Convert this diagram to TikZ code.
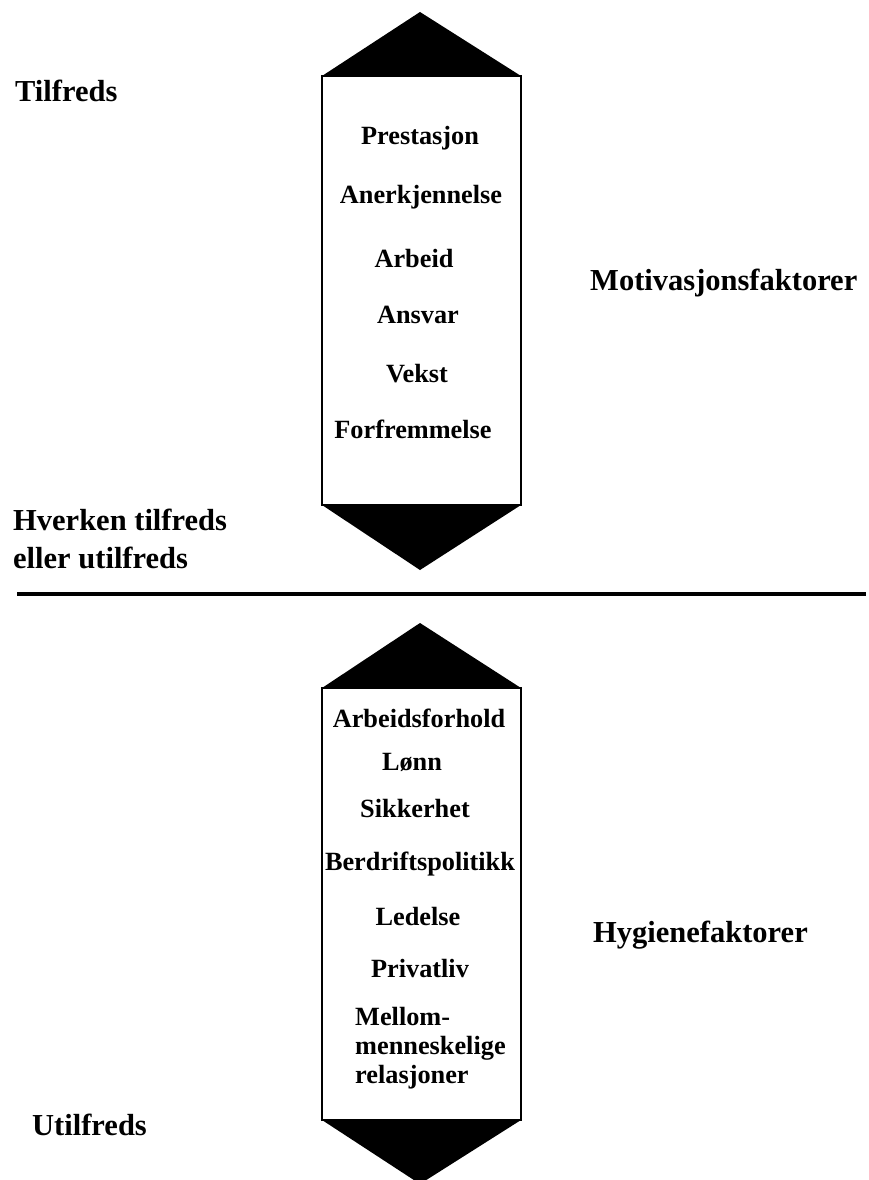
\documentclass[tikz,border=0pt]{standalone}
\usepackage{fontspec}
\setmainfont{Liberation Serif}
\begin{document}
\begin{tikzpicture}[x=1pt,y=-1pt,
  outerlbl/.style={font=\fontsize{30.5}{36}\selectfont\bfseries, inner sep=0pt, anchor=base west},
  innerlbl/.style={font=\fontsize{26.3}{30}\selectfont\bfseries, inner sep=0pt, anchor=base},
  leftlbl/.style={font=\fontsize{26.3}{30}\selectfont\bfseries, inner sep=0pt, anchor=base west},
  box/.style={draw=black, line width=1.5pt, fill=white},
  tip/.style={fill=black}]
\useasboundingbox (0,0) rectangle (869,1180);
\clip (0,0) rectangle (869,1180);
% upper arrow
\coordinate (ua) at (420,12);
\coordinate (utl) at (322,76);
\coordinate (utr) at (521,76);
\coordinate (ubl) at (322,505);
\coordinate (ubr) at (521,505);
\coordinate (ub) at (420,570);
\draw[box] (utl) rectangle (ubr);
\fill[tip] (utl) -- (ua) -- (utr) -- cycle;
\fill[tip] (ubl) -- (ub) -- (ubr) -- cycle;
% divider
\coordinate (dl) at (17,594);
\coordinate (dr) at (866,594);
\draw[line width=4pt] (dl) -- (dr);
% lower arrow
\coordinate (la) at (420,623);
\coordinate (ltl) at (322,688);
\coordinate (ltr) at (521,688);
\coordinate (lbl) at (322,1120);
\coordinate (lbr) at (521,1120);
\coordinate (lb) at (420,1184);
\draw[box] (ltl) rectangle (lbr);
\fill[tip] (ltl) -- (la) -- (ltr) -- cycle;
\fill[tip] (lbl) -- (lb) -- (lbr) -- cycle;
% outer labels
\node[outerlbl] (tilf) at (15,102) {Tilfreds};
\node[outerlbl] (hv1) at (13,530) {Hverken tilfreds};
\node[outerlbl] (hv2) at (13,568) {eller utilfreds};
\node[outerlbl] (utilf) at (32,1135) {Utilfreds};
\node[outerlbl] (motiv) at (590,290) {Motivasjonsfaktorer};
\node[outerlbl] (hyg) at (593,942) {Hygienefaktorer};
% upper items
\node[innerlbl] (m1) at (420,145) {Prestasjon};
\node[innerlbl] (m2) at (421,203) {Anerkjennelse};
\node[innerlbl] (m3) at (414,267) {Arbeid};
\node[innerlbl] (m4) at (418,323) {Ansvar};
\node[innerlbl] (m5) at (417,382) {Vekst};
\node[innerlbl] (m6) at (413,438) {Forfremmelse};
% lower items
\node[innerlbl] (h1) at (419,727) {Arbeidsforhold};
\node[innerlbl] (h2) at (412,770) {Lønn};
\node[innerlbl] (h3) at (415,817) {Sikkerhet};
\node[innerlbl] (h4) at (420,870) {Berdriftspolitikk};
\node[innerlbl] (h5) at (418,925) {Ledelse};
\node[innerlbl] (h6) at (420,977) {Privatliv};
\node[leftlbl] (h7a) at (355,1025) {Mellom-};
\node[leftlbl] (h7b) at (355,1054) {menneskelige};
\node[leftlbl] (h7c) at (355,1083) {relasjoner};
\end{tikzpicture}
\end{document}
